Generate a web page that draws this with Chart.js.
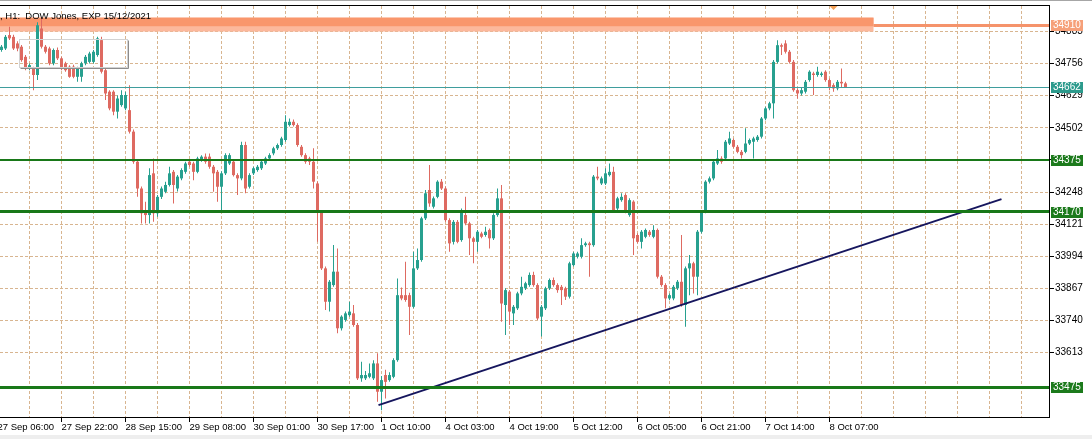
<!DOCTYPE html>
<html><head><meta charset="utf-8">
<script src="https://cdn.jsdelivr.net/npm/chart.js@4/dist/chart.umd.min.js"></script>
<style>
html,body{margin:0;padding:0;background:#fff;overflow:hidden;width:1092px;height:439px;position:relative}
canvas{position:absolute;left:-5px;top:0}
</style>
</head><body>
<canvas id="c" width="1097" height="439"></canvas>
<script>
// ---- DATA (hourly candles, DOW Jones futures) ----
const opens = [34810,34816,34869,34862,34836,34823,34783,34737,34737,34711,34895,34823,34816,34757,34810,34777,34757,34744,34744,34704,34704,34757,34763,34763,34790,34849,34730,34645,34645,34566,34592,34579,34572,34487,34368,34262,34170,34157,34322,34164,34229,34249,34276,34328,34262,34302,34328,34368,34361,34328,34374,34388,34388,34348,34328,34269,34322,34361,34368,34315,34302,34434,34269,34322,34335,34342,34361,34381,34401,34421,34434,34454,34513,34526,34513,34427,34394,34381,34368,34282,34170,33946,33814,33880,33933,33709,33742,33761,33768,33722,33511,33511,33517,33511,33570,33458,33524,33504,33517,33583,33840,33840,33840,33794,33946,33979,34144,34256,34190,34229,34289,34262,34137,34051,34130,34058,34157,34124,34065,34051,34084,34078,34098,34065,34157,34223,33801,33854,33768,33788,33847,33867,33880,33920,33880,33755,33788,33867,33900,33880,33873,33867,33834,33959,33992,33992,34038,34045,34038,34309,34282,34282,34315,34328,34183,34216,34236,34157,34210,34078,34051,34071,34091,34071,34098,33913,33880,33827,33827,33867,33893,33801,33946,33966,33913,34091,34170,34289,34302,34361,34381,34381,34440,34454,34427,34407,34407,34440,34447,34454,34467,34539,34579,34599,34763,34829,34836,34803,34763,34651,34638,34645,34691,34717,34711,34711,34724,34691,34671,34658,34684,34678];
const highs = [34830,34869,34902,34870,34845,34830,34790,34757,34744,34920,34941,34830,34823,34816,34820,34783,34763,34750,34752,34744,34763,34790,34803,34810,34862,34862,34737,34651,34651,34630,34651,34645,34671,34495,34375,34270,34210,34342,34381,34236,34270,34289,34348,34335,34315,34342,34368,34374,34368,34388,34394,34400,34400,34355,34335,34330,34401,34401,34374,34322,34447,34447,34322,34348,34355,34374,34388,34401,34427,34440,34467,34552,34539,34535,34520,34434,34401,34388,34421,34290,34177,33953,33900,34038,34025,33761,33775,33814,33801,33730,33577,33540,33570,33583,33610,33520,33545,33535,33590,33906,33870,33972,33850,34012,34025,34150,34256,34355,34230,34295,34300,34270,34144,34137,34137,34183,34229,34130,34071,34098,34091,34111,34104,34164,34262,34276,33867,33860,33801,33854,33913,33893,33930,33933,33887,33801,33873,33906,33910,33887,33880,33873,33972,34012,34012,34065,34051,34051,34315,34348,34309,34342,34361,34348,34229,34243,34243,34223,34216,34085,34098,34104,34098,34117,34104,33920,33887,33847,33880,33900,34078,33953,33999,33972,34098,34177,34295,34309,34374,34414,34390,34454,34487,34460,34434,34414,34500,34460,34467,34474,34545,34585,34605,34770,34849,34836,34849,34810,34770,34658,34660,34691,34730,34724,34744,34724,34730,34697,34678,34691,34737,34684];
const lows = [34803,34810,34850,34810,34805,34763,34730,34730,34651,34691,34816,34796,34750,34750,34770,34730,34724,34700,34698,34684,34684,34750,34757,34757,34783,34717,34612,34572,34552,34539,34585,34572,34480,34360,34229,34124,34124,34124,34130,34150,34220,34243,34270,34203,34250,34295,34320,34348,34295,34322,34368,34360,34340,34249,34210,34170,34315,34355,34309,34236,34295,34243,34262,34315,34328,34335,34355,34374,34394,34414,34427,34447,34507,34507,34427,34388,34360,34355,34262,34051,33940,33781,33775,33873,33689,33700,33735,33755,33715,33504,33497,33504,33511,33504,33418,33385,33431,33497,33511,33577,33820,33814,33682,33788,33940,33972,34137,34190,34183,34223,34256,34130,34012,34040,34045,34051,34117,33999,33966,34012,34065,34071,34025,34058,34150,33735,33682,33722,33722,33781,33840,33860,33873,33873,33742,33676,33781,33860,33873,33850,33801,33821,33827,33953,33985,33985,34032,33913,34032,34295,34276,34276,34309,34170,34177,34210,34164,34150,33999,34045,34025,34065,34071,34065,33906,33873,33788,33820,33820,33860,33794,33715,33840,33847,33840,34084,34164,34282,34295,34355,34360,34374,34434,34421,34401,34381,34401,34434,34381,34447,34460,34532,34572,34539,34757,34790,34796,34757,34645,34618,34630,34638,34684,34632,34704,34704,34684,34651,34645,34651,34664,34660];
const closes = [34823,34862,34856,34816,34816,34770,34737,34750,34711,34908,34823,34803,34757,34810,34777,34737,34730,34704,34704,34737,34757,34783,34796,34803,34856,34724,34638,34579,34566,34618,34632,34632,34487,34368,34262,34164,34157,34315,34164,34229,34262,34276,34322,34276,34309,34335,34361,34355,34328,34381,34388,34368,34348,34322,34269,34322,34394,34394,34315,34302,34434,34262,34315,34342,34348,34368,34381,34394,34421,34434,34460,34526,34526,34513,34434,34394,34368,34368,34289,34170,33946,33814,33893,33933,33709,33755,33768,33775,33722,33511,33524,33524,33531,33570,33458,33504,33497,33524,33583,33840,33827,33821,33794,33946,33979,34144,34243,34203,34223,34289,34262,34137,34045,34130,34051,34177,34124,34065,34051,34091,34071,34091,34065,34157,34223,33807,33860,33775,33794,33847,33873,33887,33920,33880,33748,33794,33867,33900,33880,33860,33860,33834,33966,34005,34005,34038,34045,34038,34309,34302,34302,34322,34328,34177,34223,34229,34170,34216,34065,34051,34091,34098,34078,34098,33913,33880,33827,33840,33873,33893,33801,33946,33966,33913,34091,34170,34289,34302,34368,34381,34368,34447,34460,34427,34407,34394,34440,34454,34460,34467,34539,34579,34599,34763,34829,34823,34803,34763,34651,34638,34651,34684,34724,34711,34724,34717,34691,34664,34658,34684,34678,34662];

const xTickIdx = [-1, 15, 31, 47, 63, 79, 95, 111, 127, 143, 159, 175, 191, 207];
const xTickLabels = ['27 Sep 06:00','27 Sep 22:00','28 Sep 15:00','29 Sep 08:00','30 Sep 01:00','30 Sep 17:00','1 Oct 10:00','4 Oct 03:00','4 Oct 19:00','5 Oct 12:00','6 Oct 05:00','6 Oct 21:00','7 Oct 14:00','8 Oct 07:00'];
const yTicks = [33613, 33740, 33867, 33994, 34121, 34248, 34375, 34502, 34629, 34756, 34883];

const supportLevels = [34375, 34170, 33475];
const currentPrice = 34662;
const zoneLevel = 34910;
const zoneRange = [34938, 34883];
const zoneEndBar = 218;
const trendBars = [94.25, 250];
const trendPrices = [33405, 34220];
const boxBars = [4.4, 31.4];
const boxPrices = [34853, 34741];
const markerBar = 208;
const titleText = ', H1:  DOW Jones, EXP 15/12/2021';

// ---- STYLE ----
const BULL = '#27a08f', BEAR = '#de6a61', GRID = '#d8b590';
const FONT = '"Liberation Sans", Arial, sans-serif';
const GRID_STEP = 8;
const colorOf = i => closes[i] >= opens[i] ? BULL : BEAR;
const idx = opens.map((_, i) => i);

const overlay = {
  id: 'overlay',
  beforeDatasetsDraw(chart) {
    const {ctx, chartArea: a, scales: {x, y}} = chart;
    ctx.save();
    // vertical dashed grid (drawn as small segments)
    ctx.fillStyle = GRID;
    for (let k = 0; k < 100; k++) {
      const px = Math.round(x.getPixelForValue(xTickIdx[0] + k * GRID_STEP) - 0.5);
      if (!(px <= a.right)) break;
      if (px < a.left) continue;
      for (let yy = a.top + 1; yy < a.bottom; yy += 5) ctx.fillRect(px, yy, 1, Math.min(3, a.bottom - yy));
    }
    // resistance zone
    const xe = x.getPixelForValue(zoneEndBar);
    const y1 = y.getPixelForValue(zoneRange[0]), y2 = y.getPixelForValue(zoneRange[1]);
    const ym = y.getPixelForValue(zoneLevel);
    ctx.fillStyle = '#fcb89c';
    ctx.fillRect(a.left, y1, xe - a.left, y2 - y1);
    ctx.fillStyle = '#f9966c';
    ctx.fillRect(a.left, y1, xe - a.left, ym + 1.5 - y1);
    ctx.restore();
  },
  afterDatasetsDraw(chart) {
    const {ctx, chartArea: a, scales: {x, y}} = chart;
    ctx.save();
    const xe = x.getPixelForValue(zoneEndBar);
    const ym = Math.round(y.getPixelForValue(zoneLevel));
    ctx.fillStyle = '#f5936b';
    ctx.fillRect(xe, ym - 1, a.right - xe, 3);
    const yc = Math.round(y.getPixelForValue(currentPrice));
    ctx.fillStyle = '#3f9d9d';
    ctx.fillRect(a.left, yc, a.right - a.left, 1);
    ctx.fillStyle = '#187818';
    supportLevels.forEach((v, k) => {
      const w = k === 0 ? 2 : 3;
      const py = y.getPixelForValue(v);
      ctx.fillRect(a.left, Math.round(py - w / 2), a.right - a.left, w);
    });
    const bx1 = Math.round(x.getPixelForValue(boxBars[0])) + 0.5, bx2 = Math.round(x.getPixelForValue(boxBars[1])) + 0.5;
    const by1 = Math.round(y.getPixelForValue(boxPrices[0])) + 0.5, by2 = Math.round(y.getPixelForValue(boxPrices[1])) + 0.5;
    ctx.strokeStyle = '#d2d2d2'; ctx.lineWidth = 1;
    ctx.strokeRect(bx1, by1, bx2 - bx1, by2 - by1);
    ctx.strokeStyle = '#8c8c8c';
    ctx.beginPath();
    ctx.moveTo(bx1 + 1, by2 + 1); ctx.lineTo(bx2 + 1, by2 + 1); ctx.lineTo(bx2 + 1, by1 + 1);
    ctx.stroke();
    ctx.restore();
  },
  afterDraw(chart) {
    const {ctx, chartArea: a, scales: {x, y}, width: W} = chart;
    ctx.save();
    ctx.fillStyle = '#000';
    ctx.fillRect(0, Math.round(a.top), Math.round(a.right) + 1, 1);
    ctx.fillRect(Math.round(a.right), Math.round(a.top), 1, Math.round(a.bottom - a.top) + 1);
    ctx.fillRect(0, Math.round(a.bottom), Math.round(a.right) + 1, 1);
    ctx.fillStyle = '#a6a6a6'; ctx.fillRect(0, 0, W, 1);
    ctx.fillStyle = '#eeeeee'; ctx.fillRect(0, 435, W, 4);
    const boxes = [[zoneLevel, '#f6a079'], [currentPrice, '#2c9a8c']].concat(supportLevels.map(v => [v, '#1c7a1c']));
    ctx.font = '10px ' + FONT;
    ctx.textBaseline = 'middle'; ctx.textAlign = 'left';
    boxes.forEach(([v, col]) => {
      const py = y.getPixelForValue(v);
      ctx.fillStyle = col;
      ctx.fillRect(a.right + 2, Math.round(py) - 5, 32, 11);
      ctx.fillStyle = '#fff';
      ctx.fillText(String(v), a.right + 4, Math.round(py) + 0.5);
    });
    const mx = x.getPixelForValue(markerBar);
    ctx.fillStyle = '#f2a057';
    ctx.beginPath();
    ctx.moveTo(mx - 4, a.top + 1); ctx.lineTo(mx + 4, a.top + 1); ctx.lineTo(mx, a.top + 5);
    ctx.closePath(); ctx.fill();
    ctx.fillStyle = '#000';
    ctx.font = '9.5px ' + FONT;
    ctx.textBaseline = 'alphabetic';
    ctx.fillText(titleText, 5, 19);
    ctx.restore();
  }
};

new Chart(document.getElementById('c'), {
  type: 'bar',
  data: {
    datasets: [
      { type: 'line', data: trendBars.map((b, k) => ({x: b, y: trendPrices[k]})),
        borderColor: '#16165e', borderWidth: 2, pointRadius: 0, fill: false, tension: 0, order: -1 },
      { type: 'bar', data: idx.map(i => ({x: i, y: [opens[i], closes[i]]})),
        backgroundColor: idx.map(colorOf), barThickness: 3, grouped: false, minBarLength: 1,
        inflateAmount: 0, borderWidth: 0, order: 0 },
      { type: 'bar', data: idx.map(i => ({x: i, y: [lows[i], highs[i]]})),
        backgroundColor: idx.map(colorOf), barThickness: 1, grouped: false,
        inflateAmount: 0, borderWidth: 0, order: 1 }
    ]
  },
  options: {
    responsive: false, devicePixelRatio: 1, animation: false, events: [],
    layout: { padding: { top: 5, left: 0, right: 0, bottom: 0 } },
    plugins: { legend: { display: false }, tooltip: { enabled: false } },
    scales: {
      x: {
        type: 'linear', min: -1.625, max: 261.875, offset: false,
        afterBuildTicks: s => { s.ticks = xTickIdx.map(v => ({value: v})); },
        ticks: {
          autoSkip: false, maxRotation: 0, minRotation: 0, align: 'start', padding: 0, color: '#000',
          font: { family: FONT, size: 9.5 },
          callback: v => { const k = xTickIdx.indexOf(v); return k >= 0 ? xTickLabels[k] : ''; }
        },
        grid: { offset: false, drawOnChartArea: false, color: '#000', lineWidth: 1, tickLength: 5, tickWidth: 1, tickColor: '#000' },
        border: { display: false },
        afterFit: s => { s.height = 22; s.paddingLeft = 0; s.paddingRight = 0; }
      },
      y: {
        type: 'linear', position: 'right', min: 33358, max: 34988,
        afterBuildTicks: s => { s.ticks = yTicks.map(v => ({value: v})); },
        ticks: { padding: 1, color: '#000', font: { family: FONT, size: 10 }, callback: v => String(v) },
        grid: { color: GRID, lineWidth: 1, borderDash: [3, 2], tickLength: 5, tickColor: '#000' },
        border: { display: false, dash: [3, 2] },
        afterFit: s => { s.width = 43; s.paddingTop = 0; s.paddingBottom = 0; }
      }
    }
  },
  plugins: [overlay]
});
</script>
</body></html>
